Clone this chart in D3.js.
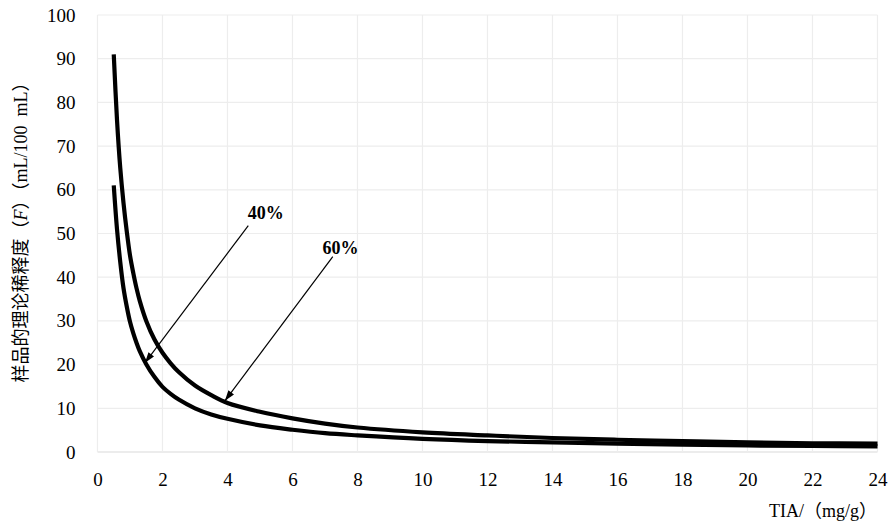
<!DOCTYPE html>
<html><head><meta charset="utf-8">
<script src="https://cdn.jsdelivr.net/npm/d3@7"></script>
<style>
body{margin:0;background:#fff;}
svg text{font-family:"Liberation Serif","Noto Sans CJK SC";}
</style></head>
<body><svg id="c" width="895" height="532"></svg>
<script>
const tiaValues = [0.5,0.6,0.7,0.8,0.9,1,1.1,1.2,1.3,1.5,1.75,2,2.25,2.5,3,3.5,4,5,6,7,8,10,12,14,16,18,20,22,24];
const series60 = [91,76,65,57,50.5,45,41,37.5,34.6,30,25.8,22.7,20.3,18.3,15.2,13,11.2,9.2,7.7,6.5,5.6,4.5,3.8,3.2,2.8,2.5,2.2,2.0,1.9];
const series40 = [61,51,43.5,37.5,33.3,29.8,27.2,25,23.1,20.1,17.2,14.9,13.3,12,10,8.6,7.6,6.1,5.1,4.3,3.8,3.0,2.5,2.2,1.9,1.7,1.5,1.4,1.3];
const xTicks = [0,2,4,6,8,10,12,14,16,18,20,22,24];
const yTicks = [0,10,20,30,40,50,60,70,80,90,100];
const annotLabels = ["40%","60%"];
const annotFrom = [[4.64,51.8],[7.24,44.7]];
const annotTo = [[1.46,20.4],[3.92,11.7]];
const annotText = [[4.62,53.3],[6.92,45.4]];
const xTitle = "TIA/（mg/g）";

const FONT = "'Liberation Serif','Noto Sans CJK SC'";
const svg = d3.select("#c");
const x = d3.scaleLinear().domain([0,24]).range([97.5,877.5]);
const y = d3.scaleLinear().domain([0,100]).range([452,15]);

// grid
const g = svg.append("g");
g.selectAll(".hg").data(yTicks).join("line")
  .attr("x1",x(0)).attr("x2",x(24)).attr("y1",d=>y(d)).attr("y2",d=>y(d))
  .attr("stroke",d=>d===0?"#d9d9d9":"#ededed").attr("stroke-width",1.2);
g.selectAll(".vg").data(xTicks).join("line")
  .attr("x1",d=>x(d)).attr("x2",d=>x(d)).attr("y1",y(0)).attr("y2",y(100))
  .attr("stroke","#ededed").attr("stroke-width",1.2);

// axes
const yAxis = svg.append("g").attr("transform",`translate(${x(0)},0)`)
  .call(d3.axisLeft(y).tickValues(yTicks).tickSize(0).tickPadding(22));
yAxis.attr("font-family",null).attr("font-size",null);
yAxis.select(".domain").remove();
yAxis.selectAll("text").attr("fill","#000").attr("font-family",FONT)
  .style("font-family",FONT).style("font-size","19px");
const xAxis = svg.append("g").attr("transform",`translate(0,${y(0)})`)
  .call(d3.axisBottom(x).tickValues(xTicks).tickSize(0).tickPadding(21));
xAxis.attr("font-family",null).attr("font-size",null);
xAxis.select(".domain").remove();
xAxis.selectAll("text").attr("fill","#000").attr("font-family",FONT)
  .style("font-family",FONT).style("font-size","19px");

// curves
const line = d3.line().x(d=>x(d[0])).y(d=>y(d[1])).curve(d3.curveCatmullRom.alpha(0.5));
[series60, series40].forEach(s=>{
  svg.append("path").datum(tiaValues.map((t,i)=>[t,s[i]]))
    .attr("d",line).attr("fill","none").attr("stroke","#000")
    .attr("stroke-width",4.2).attr("stroke-linejoin","round").attr("stroke-linecap","butt");
});

// arrows
svg.append("defs").append("marker").attr("id","ah")
  .attr("viewBox","0 0 12 8").attr("refX",12).attr("refY",4)
  .attr("markerWidth",12).attr("markerHeight",7).attr("markerUnits","userSpaceOnUse")
  .attr("orient","auto")
  .append("path").attr("d","M0,0 L12,4 L0,8 Z").attr("fill","#000");
annotLabels.forEach((lab,i)=>{
  svg.append("line")
    .attr("x1",x(annotFrom[i][0])).attr("y1",y(annotFrom[i][1]))
    .attr("x2",x(annotTo[i][0])).attr("y2",y(annotTo[i][1]))
    .attr("stroke","#000").attr("stroke-width",1.2).attr("marker-end","url(#ah)");
  svg.append("text").attr("x",x(annotText[i][0])).attr("y",y(annotText[i][1]))
    .style("font-family",FONT).style("font-size","18px").attr("font-weight","bold").text(lab);
});

// axis titles
svg.append("text").attr("x",877).attr("y",517).attr("text-anchor","end")
  .style("font-family",FONT).style("font-size","18px").text(xTitle);
const yt = svg.append("text").attr("transform","translate(27,228) rotate(-90)")
  .attr("text-anchor","middle").style("font-family",FONT).style("font-size","18px");
yt.append("tspan").text("样品的理论稀释度（");
yt.append("tspan").attr("font-style","italic").text("F");
yt.append("tspan").text("）（mL/100  mL）").attr("xml:space","preserve").style("white-space","pre");
</script></body></html>
